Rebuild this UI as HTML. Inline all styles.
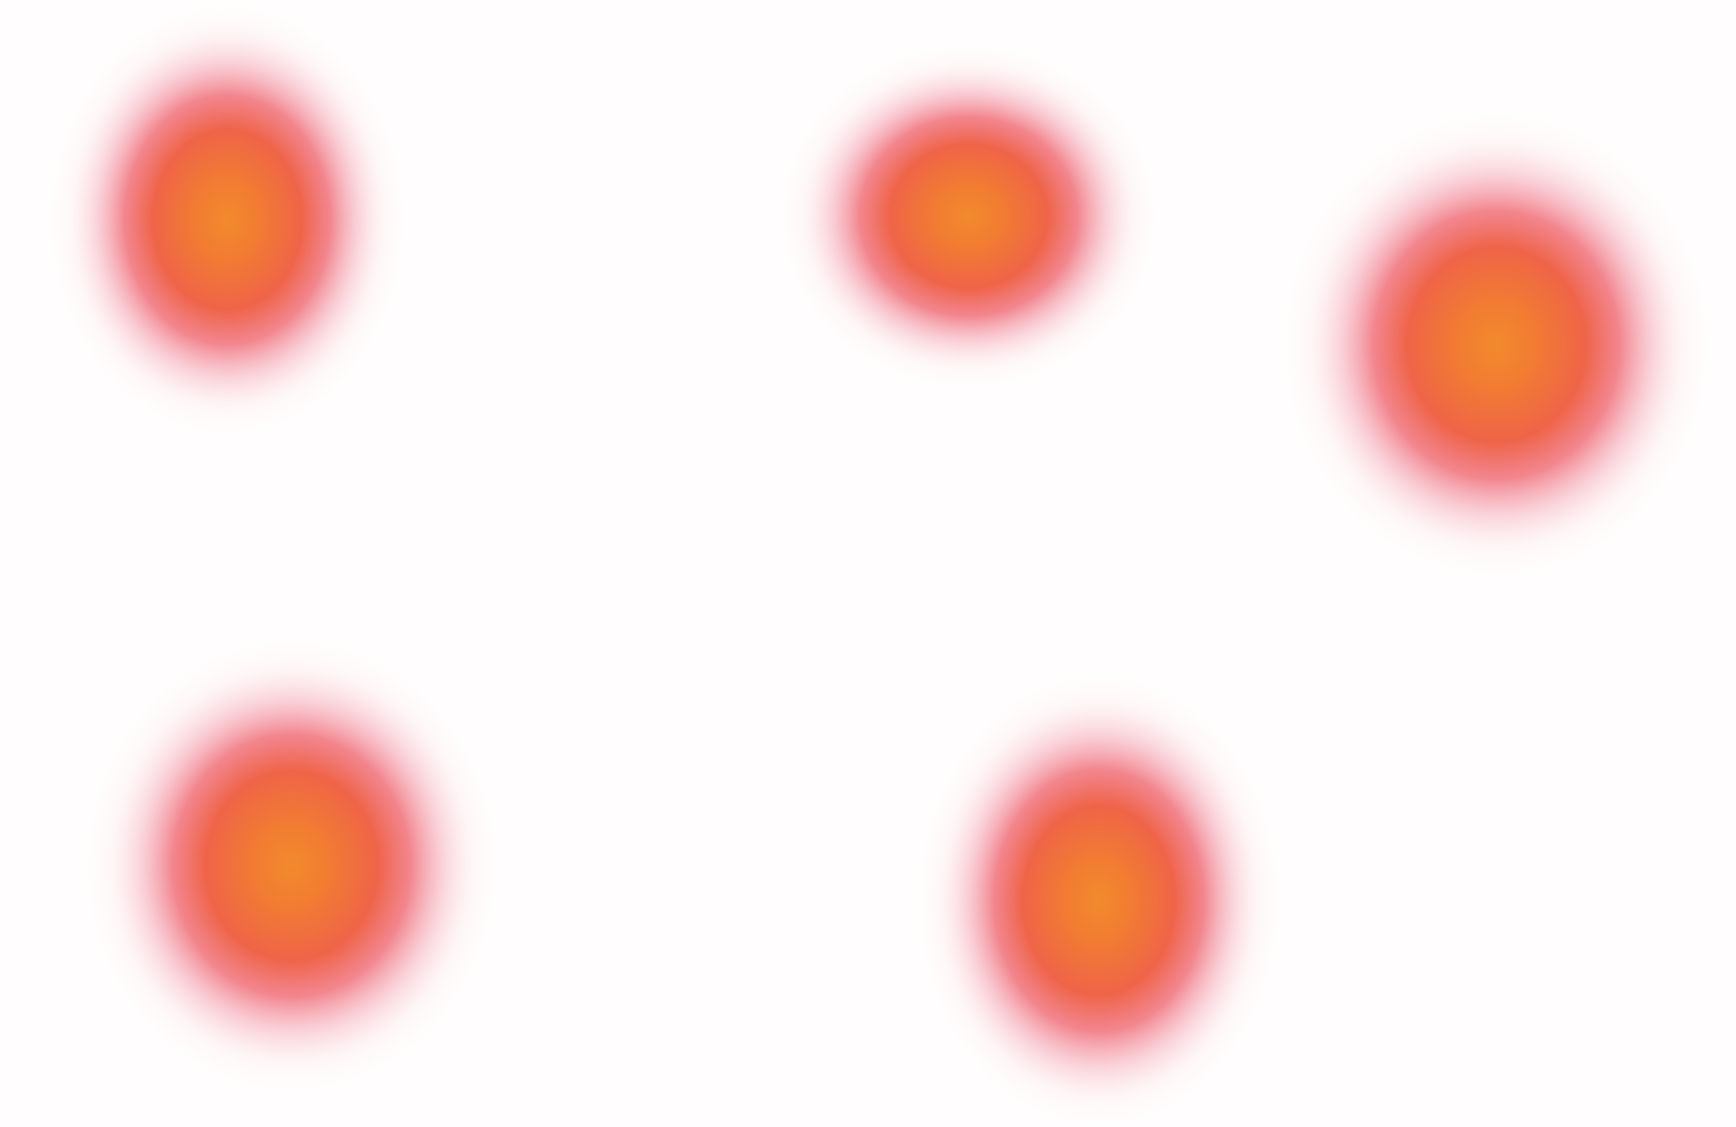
<!DOCTYPE html>
<html><head><meta charset="utf-8"><style>
html,body{margin:0;padding:0;background:#fffdfd;}
svg{display:block;}
</style></head><body>
<svg id="chart" width="1736" height="1127" viewBox="0 0 1736 1127" xmlns="http://www.w3.org/2000/svg">
<defs>
<radialGradient id="heat" cx="50%" cy="50%" r="50%">
<stop offset="0" stop-color="#f28a2c"/>
<stop offset="0.18" stop-color="#f17c32"/>
<stop offset="0.42" stop-color="#ef6448"/>
<stop offset="0.58" stop-color="#f0707a" stop-opacity="0.85"/>
<stop offset="0.74" stop-color="#f4a0b0" stop-opacity="0.45"/>
<stop offset="0.88" stop-color="#f9d0d8" stop-opacity="0.15"/>
<stop offset="1" stop-color="#fde6ea" stop-opacity="0"/>
</radialGradient>
</defs>
<rect x="0" y="0" width="1736" height="1127" fill="#fffdfd"/>
<g id="blobs"></g>
</svg>
<script>
// data-space domain: x 0..100, y 0..100
const pointX = [13.1, 55.8, 86.2, 16.8, 63.3];
const pointY = [19.5, 19.2, 30.6, 76.8, 79.9];
const spreadX = [10.2, 10.8, 12.2, 11.8, 10.4];
const spreadY = [19.0, 15.2, 20.5, 20.0, 20.0];

const W = 1736, H = 1127;
const xScale = v => v / 100 * W;
const yScale = v => v / 100 * H;
const rx = v => v / 100 * W;
const ry = v => v / 100 * H;

const g = document.getElementById('blobs');
const ns = 'http://www.w3.org/2000/svg';
for (let i = 0; i < pointX.length; i++) {
  const e = document.createElementNS(ns, 'ellipse');
  e.setAttribute('cx', xScale(pointX[i]));
  e.setAttribute('cy', yScale(pointY[i]));
  e.setAttribute('rx', rx(spreadX[i]));
  e.setAttribute('ry', ry(spreadY[i]));
  e.setAttribute('fill', 'url(#heat)');
  
  
  g.appendChild(e);
}
</script>
</body></html>
